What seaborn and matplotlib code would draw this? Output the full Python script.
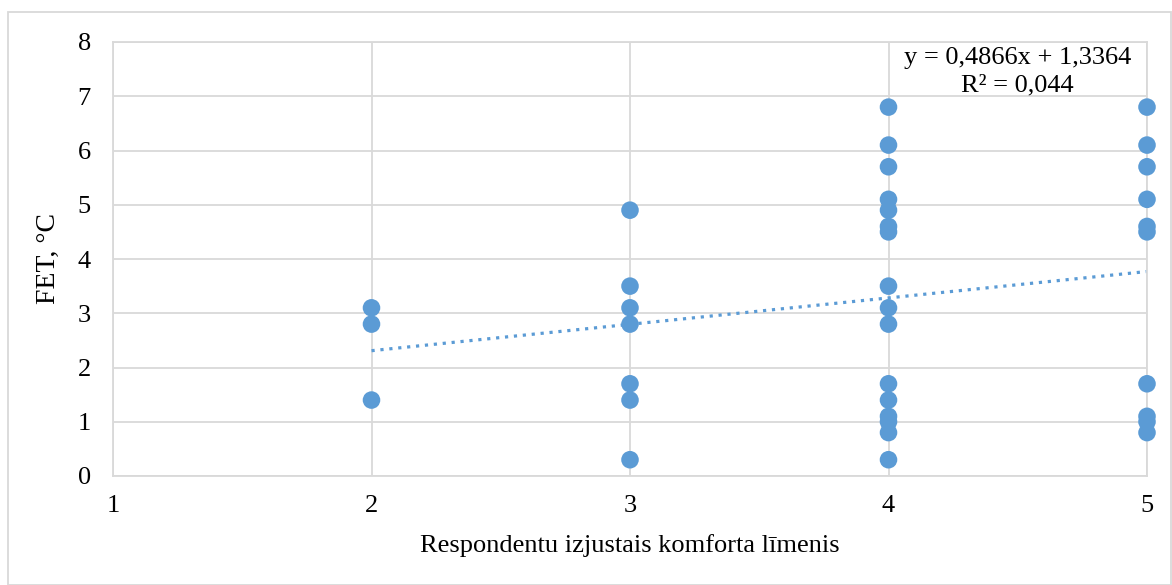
import numpy as np
import pandas as pd
import matplotlib.pyplot as plt
import seaborn as sns
from matplotlib.patches import Rectangle

# data
komforts = [2, 2, 2,
            3, 3, 3, 3, 3, 3, 3,
            4, 4, 4, 4, 4, 4, 4, 4, 4, 4, 4, 4, 4, 4, 4, 4,
            5, 5, 5, 5, 5, 5, 5, 5, 5, 5]
fet = [3.1, 2.8, 1.4,
       4.9, 3.5, 3.1, 2.8, 1.7, 1.4, 0.3,
       6.8, 6.1, 5.7, 5.1, 4.9, 4.6, 4.5, 3.5, 3.1, 2.8, 1.7, 1.4, 1.1, 1.0, 0.8, 0.3,
       6.8, 6.1, 5.7, 5.1, 4.6, 4.5, 1.7, 1.1, 1.0, 0.8]
slope, intercept = 0.4866, 1.3364
r2 = 0.044
x_ticks = [1, 2, 3, 4, 5]
y_ticks = [0, 1, 2, 3, 4, 5, 6, 7, 8]

df = pd.DataFrame({"x": komforts, "y": fet})

sns.set_style("white")
plt.rcParams["font.family"] = ["Liberation Serif", "DejaVu Serif"]
plt.rcParams["text.color"] = "black"
plt.rcParams["xtick.color"] = "black"
plt.rcParams["ytick.color"] = "black"
plt.rcParams["axes.labelcolor"] = "black"

blue = "#5B9BD5"
grid_c = "#D9D9D9"

fig = plt.figure(figsize=(11.72, 5.85), dpi=100)
ax = fig.add_axes([113 / 1172, 1 - 476 / 585, (1147 - 113) / 1172, (476 - 42) / 585])

sns.scatterplot(data=df, x="x", y="y", ax=ax, color=blue, s=160,
                edgecolor="none", zorder=3, clip_on=False)

# linear trendline
tx = np.array([min(komforts), max(komforts)])
ax.plot(tx, slope * tx + intercept, linestyle=(0, (1, 1.8)), color=blue,
        linewidth=2.3, zorder=2)

ax.set_xlim(1, 5)
ax.set_ylim(0, 8)
ax.set_xticks(x_ticks)
ax.set_yticks(y_ticks)
ax.grid(True, color=grid_c, linewidth=1.3)
ax.set_axisbelow(True)
for sp in ax.spines.values():
    sp.set_color(grid_c)
    sp.set_linewidth(1.3)
ax.tick_params(axis="both", length=0, labelsize=19)
ax.tick_params(axis="x", pad=14)
ax.tick_params(axis="y", pad=16)

ax.set_xlabel("Respondentu izjustais komforta līmenis", fontsize=19, labelpad=12)
ax.set_ylabel("FET, °C", fontsize=20, labelpad=12)

eq = f"y = {slope:.4f}x + {intercept:.4f}".replace(".", ",")
rr = f"R² = {r2:.3f}".replace(".", ",")
ax.text(4.5, 7.45, eq + "\n" + rr, ha="center", va="center", fontsize=19,
        linespacing=1.3)

# outer chart border
fig.patches.append(Rectangle((8 / 1172, 0), 1 - 8 / 1172 - 0.001, 1 - 12 / 585,
                             transform=fig.transFigure, fill=False,
                             edgecolor=grid_c, linewidth=1.3))

fig.savefig("out.png", dpi=100)
